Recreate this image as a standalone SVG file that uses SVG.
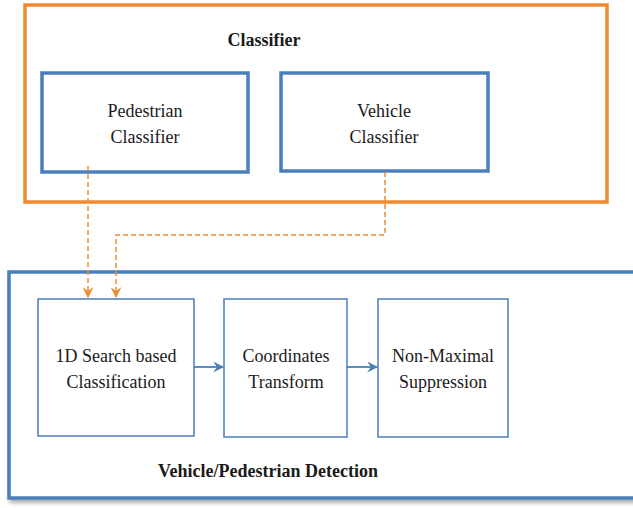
<svg xmlns="http://www.w3.org/2000/svg" width="633" height="508" viewBox="0 0 633 508">
<defs>
<style>
.t{font-family:"Liberation Serif","Times New Roman",serif;font-size:18px;fill:#1a1a1a;text-anchor:middle}
.b{font-weight:bold}
.thick{fill:#fff;stroke:#4A7EBB;stroke-width:3.5}
.thin{fill:#fff;stroke:#4A7EBB;stroke-width:1.5}
.dash{fill:none;stroke:#F08A30;stroke-width:1.5;stroke-dasharray:5,3}
.solid{fill:none;stroke:#4A7EBB;stroke-width:1.8}
</style>
<marker id="oa" viewBox="0 0 10 10" refX="9" refY="5" markerWidth="5" markerHeight="5" orient="auto" markerUnits="userSpaceOnUse" >
<path d="M0,0 L10,5 L0,10 L3,5 z" fill="#F08A30"/>
</marker>
<marker id="oarrow" viewBox="0 0 10 10" refX="9" refY="5" markerWidth="11" markerHeight="11" orient="auto" markerUnits="userSpaceOnUse">
<path d="M0,0 L10,5 L0,10 L3.5,5 z" fill="#F08A30"/>
</marker>
<marker id="barrow" viewBox="0 0 10 10" refX="9" refY="5" markerWidth="11" markerHeight="11" orient="auto" markerUnits="userSpaceOnUse">
<path d="M0,0 L10,5 L0,10 L3.5,5 z" fill="#4A7EBB"/>
</marker>
<filter id="sh" x="-5%" y="-5%" width="110%" height="110%">
<feGaussianBlur in="SourceAlpha" stdDeviation="2"/>
<feOffset dx="2" dy="3"/>
<feComponentTransfer><feFuncA type="linear" slope="0.35"/></feComponentTransfer>
<feMerge><feMergeNode/><feMergeNode in="SourceGraphic"/></feMerge>
</filter>
</defs>
<rect width="633" height="508" fill="#fff"/>

<g id="classifier">
<rect x="25" y="5" width="582" height="197" fill="#fff" stroke="#F08A30" stroke-width="3.5"/>
<text class="t b" x="264" y="46">Classifier</text>
</g>
<g id="pedestrian-classifier">
<rect class="thick" x="42" y="73" width="206" height="99"/>
<text class="t" x="145" y="117">Pedestrian</text>
<text class="t" x="145" y="143">Classifier</text>
</g>
<g id="vehicle-classifier">
<rect class="thick" x="281" y="73" width="207" height="98"/>
<text class="t" x="384" y="117">Vehicle</text>
<text class="t" x="384" y="143">Classifier</text>
</g>

<g id="detection" filter="url(#sh)">
<rect x="9" y="272" width="630" height="226" fill="#fff" stroke="#4A7EBB" stroke-width="3.5"/>
</g>
<text class="t b" x="268" y="477">Vehicle/Pedestrian Detection</text>
<g id="search">
<rect class="thin" x="38" y="299" width="156" height="137"/>
<text class="t" x="116" y="362">1D Search based</text>
<text class="t" x="116" y="388">Classification</text>
</g>
<g id="transform">
<rect class="thin" x="224" y="299" width="123" height="138"/>
<text class="t" x="286" y="362">Coordinates</text>
<text class="t" x="286" y="388">Transform</text>
</g>
<g id="nms">
<rect class="thin" x="378" y="299" width="130" height="138"/>
<text class="t" x="443" y="362">Non-Maximal</text>
<text class="t" x="443" y="388">Suppression</text>
</g>

<g id="connectors">
<path class="dash" d="M88,166 V297" marker-end="url(#oarrow)"/>
<path class="dash" d="M385,172 V235 H116 V297" marker-end="url(#oarrow)"/>
<path class="solid" d="M194,367 H223" marker-end="url(#barrow)"/>
<path class="solid" d="M347,367 H377" marker-end="url(#barrow)"/>
</g>
</svg>
